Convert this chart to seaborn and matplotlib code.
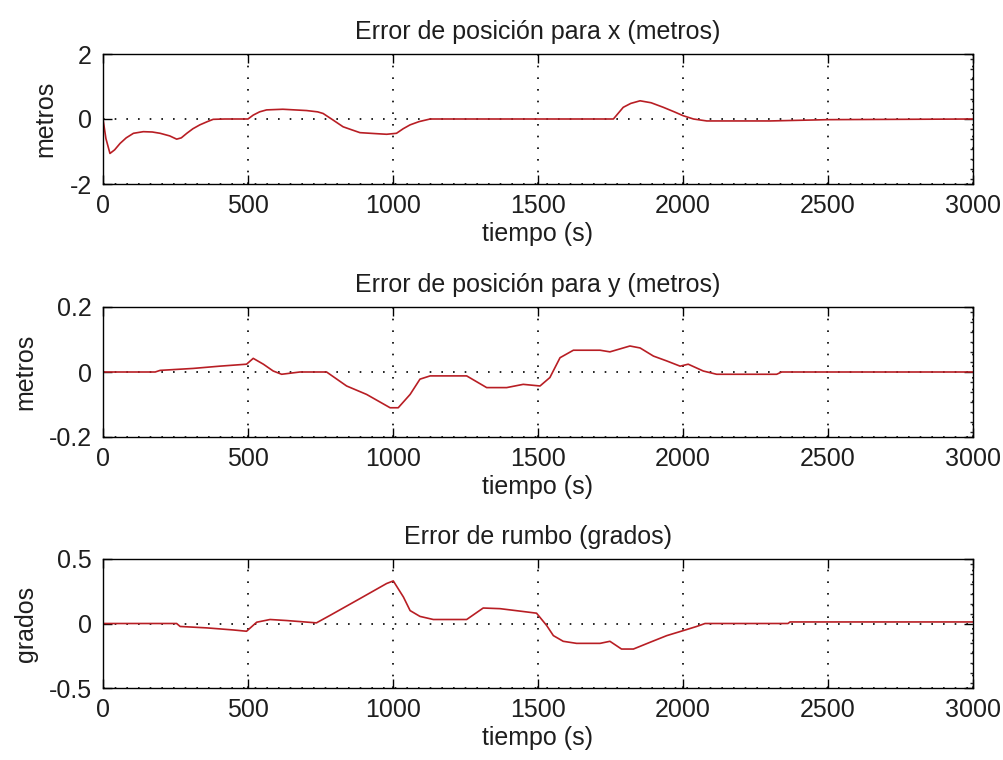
import matplotlib
matplotlib.use("Agg")
import matplotlib.pyplot as plt
import seaborn as sns
import numpy as np
import pandas as pd
from matplotlib.ticker import MultipleLocator

# ---- data ----
t_x = [0, 10, 24, 40, 59, 80, 105, 139, 170, 197, 230, 254, 270, 289, 310, 334, 360, 380, 420,
       500, 518, 540, 564, 620, 702, 740, 759, 793, 828, 860, 886, 940, 978, 1012, 1035, 1059,
       1090, 1128, 1200, 1760, 1794, 1820, 1852, 1890, 1932, 1970, 2001, 2036, 2082, 2300, 2500, 3000]
err_x = [0, -0.6, -1.06, -0.95, -0.75, -0.58, -0.44, -0.39, -0.40, -0.44, -0.52, -0.62, -0.58,
         -0.44, -0.30, -0.18, -0.08, -0.01, 0, 0, 0.12, 0.22, 0.28, 0.30, 0.26, 0.22, 0.17, -0.03,
         -0.24, -0.34, -0.42, -0.45, -0.47, -0.44, -0.30, -0.18, -0.08, 0, 0, 0, 0.36, 0.48, 0.56,
         0.50, 0.36, 0.22, 0.10, 0, -0.06, -0.06, -0.02, 0]

t_y = [0, 180, 197, 311, 403, 495, 518, 553, 587, 616, 679, 771, 840, 909, 990, 1018, 1059, 1093,
       1128, 1254, 1323, 1392, 1449, 1507, 1541, 1576, 1622, 1714, 1748, 1817, 1852, 1898, 1944,
       1990, 2018, 2070, 2116, 2323, 2340, 3000]
err_y = [0, 0, 0.005, 0.011, 0.018, 0.024, 0.042, 0.024, 0.003, -0.007, 0, 0, -0.043, -0.069,
         -0.11, -0.11, -0.069, -0.022, -0.012, -0.012, -0.048, -0.048, -0.038, -0.043, -0.017,
         0.044, 0.067, 0.067, 0.062, 0.080, 0.074, 0.049, 0.034, 0.018, 0.024, 0.003, -0.007,
         -0.007, 0, 0]

t_r = [0, 254, 266, 358, 449, 495, 530, 576, 633, 736, 783, 886, 978, 1001, 1036, 1059, 1093,
       1139, 1254, 1311, 1369, 1438, 1495, 1530, 1553, 1587, 1633, 1714, 1748, 1788, 1829, 1886,
       1944, 2001, 2047, 2076, 2362, 2369, 3000]
err_r = [0, 0, -0.023, -0.034, -0.05, -0.06, 0.01, 0.031, 0.023, 0.005, 0.063, 0.193, 0.31, 0.33,
         0.205, 0.10, 0.055, 0.031, 0.031, 0.12, 0.115, 0.096, 0.08, -0.016, -0.094, -0.138,
         -0.154, -0.154, -0.138, -0.198, -0.198, -0.146, -0.094, -0.055, -0.023, 0, 0, 0.012, 0.012]

titles = ["Error de posición para x (metros)",
          "Error de posición para y (metros)",
          "Error de rumbo (grados)"]
ylabels = ["metros", "metros", "grados"]
xlabel = "tiempo (s)"
x_ticks = [0, 500, 1000, 1500, 2000, 2500, 3000]
y_ticks = [[-2, 0, 2], [-0.2, 0, 0.2], [-0.5, 0, 0.5]]
y_ticklabels = [["-2", "0", "2"], ["-0.2", "0", "0.2"], ["-0.5", "0", "0.5"]]

series = [(t_x, err_x), (t_y, err_y), (t_r, err_r)]

# ---- style ----
sns.set_style("white")
plt.rcParams["font.family"] = ["Liberation Sans", "DejaVu Sans"]
FS = 18
text_color = "#1e1e1e"

fig = plt.figure(figsize=(10.04, 7.6), dpi=100)
fig.patch.set_facecolor("white")

W, H = 1004, 760
left_px, right_px = 103, 973
boxes = [(54, 184), (307, 437), (559, 688)]
ylabel_x = [-0.052, -0.075, -0.075]

for i, ((tt, yy), (top_px, bot_px)) in enumerate(zip(series, boxes)):
    ax = fig.add_axes([left_px / W, 1 - bot_px / H, (right_px - left_px) / W, (bot_px - top_px) / H])
    df = pd.DataFrame({"t": tt, "v": yy})
    sns.lineplot(data=df, x="t", y="v", ax=ax, color="#b81e24", linewidth=1.2, estimator=None,
                 sort=False)
    ax.set_xlim(0, 3000)
    ax.set_ylim(y_ticks[i][0], y_ticks[i][-1])
    ax.set_xticks(x_ticks)
    ax.set_xticklabels([str(v) for v in x_ticks])
    ax.set_yticks(y_ticks[i])
    ax.set_yticklabels(y_ticklabels[i])
    ax.yaxis.set_minor_locator(MultipleLocator((y_ticks[i][-1] - y_ticks[i][0]) / 13))
    ax.grid(True, which="major", color="black", linestyle=(0, (1, 6)), linewidth=1.2)
    ax.tick_params(which="major", direction="in", length=6.5, width=1.0, top=True, right=True,
                   bottom=True, left=True, colors="black", labelcolor=text_color, labelsize=FS)
    ax.tick_params(axis="x", which="major", pad=7)
    ax.tick_params(axis="y", which="major", pad=8)
    ax.tick_params(which="minor", direction="in", length=2.5, width=1.0, left=False, right=True)
    for sp in ax.spines.values():
        sp.set_visible(True)
        sp.set_color("black")
        sp.set_linewidth(1.0)
    ax.set_title(titles[i], fontsize=FS, color=text_color, pad=11)
    ax.set_xlabel(xlabel, fontsize=FS, color=text_color, labelpad=3)
    ax.set_ylabel(ylabels[i], fontsize=FS, color=text_color)
    ax.yaxis.set_label_coords(ylabel_x[i], 0.5)

fig.savefig("out.png", dpi=100, facecolor="white")
